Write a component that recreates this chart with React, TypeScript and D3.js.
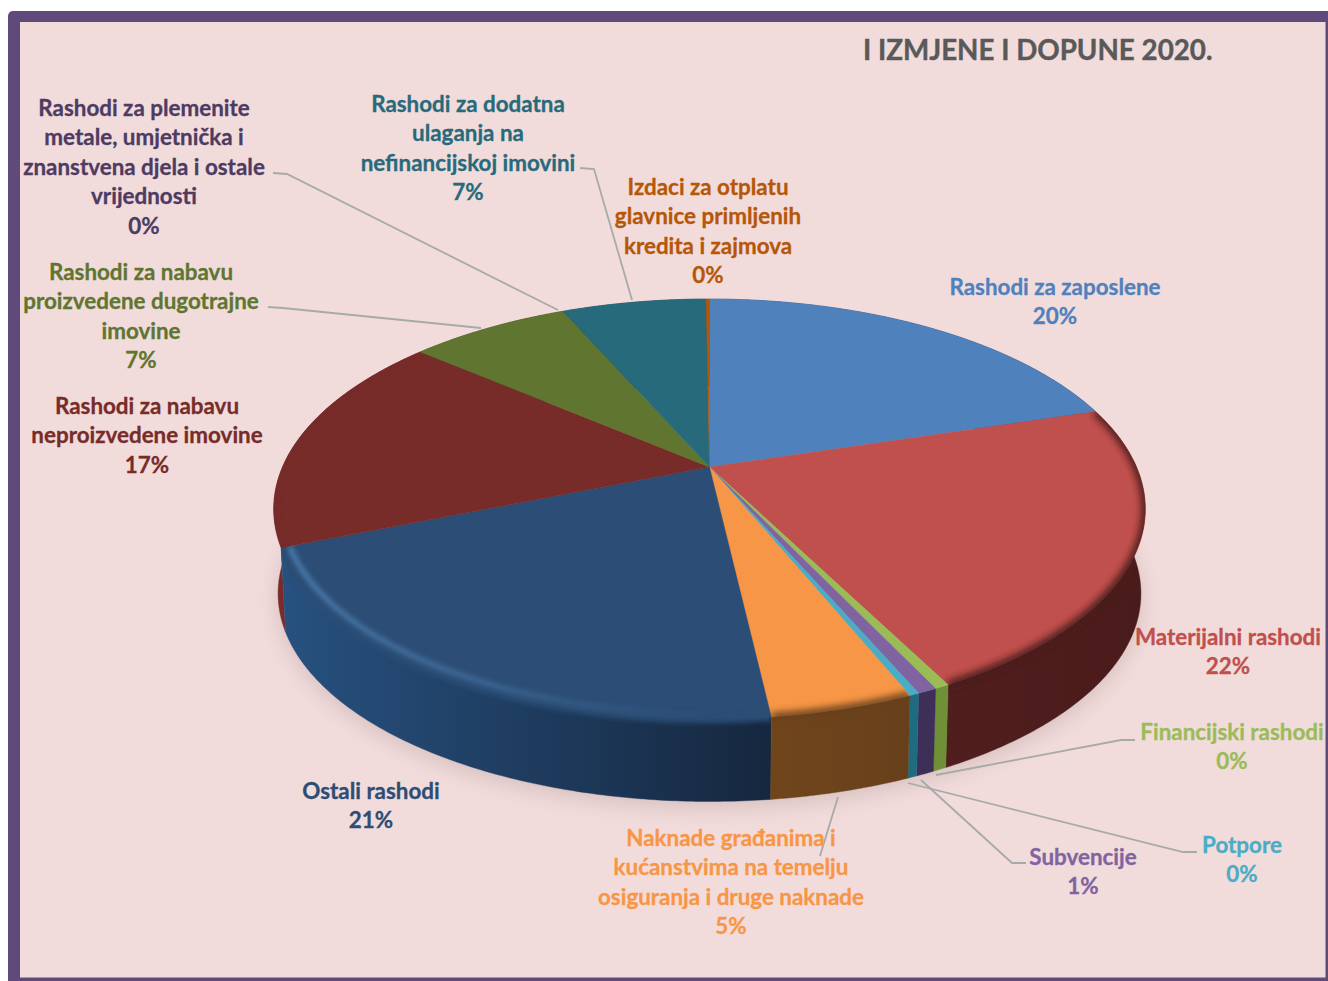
import React from "react";
import * as d3 from "d3";

const title = "I IZMJENE I DOPUNE 2020.";
const categories = [
  "Rashodi za zaposlene",
  "Materijalni rashodi",
  "Financijski rashodi",
  "Subvencije",
  "Potpore",
  "Naknade građanima i kućanstvima na temelju osiguranja i druge naknade",
  "Ostali rashodi",
  "Rashodi za nabavu neproizvedene imovine",
  "Rashodi za nabavu proizvedene dugotrajne imovine",
  "Rashodi za plemenite metale, umjetnička i znanstvena djela i ostale vrijednosti",
  "Rashodi za dodatna ulaganja na nefinancijskoj imovini",
  "Izdaci za otplatu glavnice primljenih kredita i zajmova",
];
const values = [20.3, 22.1, 0.45, 0.6, 0.3, 4.4, 20.8, 17.2, 7.2, 0.0, 6.5, 0.15];
const percentLabels = ["20%", "22%", "0%", "1%", "0%", "5%", "21%", "17%", "7%", "0%", "7%", "0%"];
const labelLines = [
  ["Rashodi za zaposlene"],
  ["Materijalni rashodi"],
  ["Financijski rashodi"],
  ["Subvencije"],
  ["Potpore"],
  ["Naknade građanima i", "kućanstvima na temelju", "osiguranja i druge naknade"],
  ["Ostali rashodi"],
  ["Rashodi za nabavu", "neproizvedene imovine"],
  ["Rashodi za nabavu", "proizvedene dugotrajne", "imovine"],
  ["Rashodi za plemenite", "metale, umjetnička i", "znanstvena djela i ostale", "vrijednosti"],
  ["Rashodi za dodatna", "ulaganja na", "nefinancijskoj imovini"],
  ["Izdaci za otplatu", "glavnice primljenih", "kredita i zajmova"],
];
const topColors = ["#4f81bd", "#c0504d", "#9bbb59", "#8064a2", "#4bacc6", "#f79646", "#2c4d75", "#772c2a", "#5f7530", "#4d3b62", "#276a7c", "#b65708"];
const wallColors = [
  ["#2b4768", "#2b4768"],
  ["#501e1d", "#4a1b1b"],
  ["#6f9037", "#6f9037"],
  ["#3d2f58", "#3d2f58"],
  ["#1f6b80", "#1f6b80"],
  ["#70451b", "#67401b"],
  ["#27517f", "#16273f"],
  ["#7a2b2a", "#7a2b2a"],
  ["#3a4a1e", "#3a4a1e"],
  ["#33273f", "#33273f"],
  ["#18434f", "#18434f"],
  ["#6f3505", "#6f3505"],
];
const labelAnchors: [number, number][] = [
  [1055, 295], [1228, 645], [1232, 740], [1083, 865], [1242, 853], [731, 846],
  [371, 799], [147, 414], [141, 280], [144, 116], [468, 112], [708, 195],
];
const leaders: [number, number][][] = [
  [[273, 173], [287, 174], [558, 310]],
  [[580, 168], [594, 169], [632, 300]],
  [[268, 307], [283, 308], [481, 328]],
  [[1135, 740], [1121, 740], [936, 775]],
  [[1197, 852], [1183, 852], [908, 783]],
  [[1026, 863], [1012, 863], [921, 780]],
  [[838, 797], [820, 856]],
];

const W = 1328, H = 981;
const cx = 709.5, cy = 467, A = 427, B = 201.6, K = 0.2, DEPTH = 85, SHRINK = 0.99;
const LINE = 29.4;
const FONT = "Lato, 'Open Sans', sans-serif";

const project = (a: number, r = 1): [number, number] => {
  const u = r * Math.sin(a), v = -r * Math.cos(a);
  const d = 1 - K * v;
  return [cx + (A * u) / d, cy + (B * v) / d];
};
const lower = ([x, y]: [number, number]): [number, number] => [
  cx + SHRINK * (x - cx),
  cy + DEPTH + SHRINK * (y - cy),
];
const samples = (a0: number, a1: number) => {
  const n = Math.max(2, Math.ceil((a1 - a0) / 0.01));
  return d3.range(n + 1).map((i) => a0 + ((a1 - a0) * i) / n);
};
const line = d3.line<[number, number]>().x((d) => d[0]).y((d) => d[1]);

const arcs = d3.pie<number>().sort(null).value((d) => d)(values);

const slices = arcs.map((arc, i) => {
  const angles = samples(arc.startAngle, arc.endAngle);
  const rim = angles.map((a) => project(a));
  const top = line([[cx, cy], ...rim])! + "Z";
  const wall = line([...rim, ...rim.map(lower).reverse()])! + "Z";
  const rimPath = line(rim)!;
  const innerRim = line(angles.map((a) => project(a, 0.982)))!;
  const xs = rim.map((p) => p[0]);
  const midY = d3.mean(rim, (p) => p[1])!;
  return { i, top, wall, rimPath, innerRim, x0: d3.min(xs)!, x1: d3.max(xs)!, midY };
}).filter((_, i) => values[i] > 0);

const wallOrder = [...slices].sort((a, b) => d3.ascending(a.midY, b.midY));
const fullBottom = line(samples(0, Math.PI * 2).map((a) => lower(project(a))))! + "Z";
const NAVY = 6;
const shaded = new Set([1, 5, 7]);

export default function App() {
  return (
    <svg
      width={W}
      height={H}
      viewBox={`0 0 ${W} ${H}`}
      style={{ position: "absolute", left: 0, top: 0, display: "block" }}
    >
      <defs>
        <filter id="blur3" filterUnits="userSpaceOnUse" x="0" y="0" width={W} height={H}>
          <feGaussianBlur stdDeviation="3.6" />
        </filter>
        <filter id="blur2" filterUnits="userSpaceOnUse" x="0" y="0" width={W} height={H}>
          <feGaussianBlur stdDeviation="2.6" />
        </filter>
        <filter id="shadow" filterUnits="userSpaceOnUse" x="0" y="0" width={W} height={H}>
          <feGaussianBlur stdDeviation="11" />
        </filter>
        <linearGradient id="navyGlow" gradientUnits="userSpaceOnUse" x1="285" x2="720" y1="0" y2="0">
          <stop offset="0" stopColor="#5288bd" stopOpacity="0.85" />
          <stop offset="0.45" stopColor="#4d80b3" stopOpacity="0.55" />
          <stop offset="1" stopColor="#3c6a9b" stopOpacity="0" />
        </linearGradient>
        {slices.map((s) => (
          <linearGradient key={s.i} id={`wall${s.i}`} gradientUnits="userSpaceOnUse" x1={s.x0} x2={s.x1} y1="0" y2="0">
            <stop offset="0" stopColor={wallColors[s.i][0]} />
            <stop offset="1" stopColor={wallColors[s.i][1]} />
          </linearGradient>
        ))}
        {slices.map((s) => (
          <clipPath key={s.i} id={`clip${s.i}`}>
            <path d={s.top} />
            <path d={s.wall} />
          </clipPath>
        ))}
      </defs>

      <rect x="8" y="11" width={W} height={H} rx="5" fill="#604a7b" />
      <rect x="20" y="22" width="1305.5" height="955.5" fill="#f2dcdb" />

      <g filter="url(#shadow)" fill="#a89594" opacity="0.4" transform="translate(0 6)">
        <path d={fullBottom} />
      </g>

      <g>
        {wallOrder.map((s) => (
          <path key={s.i} d={s.wall} fill={`url(#wall${s.i})`} stroke={`url(#wall${s.i})`} strokeWidth="0.4" />
        ))}
        {slices.map((s) => (
          <path key={s.i} d={s.top} fill={topColors[s.i]} stroke={topColors[s.i]} strokeWidth="0.4" />
        ))}
        {slices.filter((s) => shaded.has(s.i)).map((s) => (
          <g key={s.i} clipPath={`url(#clip${s.i})`}>
            <path
              d={s.rimPath}
              fill="none"
              stroke={wallColors[s.i][1]}
              strokeWidth={s.i === 7 ? 3 : 8}
              filter="url(#blur3)"
              opacity={s.i === 7 ? 0.35 : 1}
            />
          </g>
        ))}
        {slices.filter((s) => s.i === NAVY).map((s) => (
          <g key={s.i} clipPath={`url(#clip${s.i})`}>
            <path d={s.rimPath} fill="none" stroke={topColors[NAVY]} strokeWidth="8" filter="url(#blur2)" />
            <path d={s.innerRim} fill="none" stroke="url(#navyGlow)" strokeWidth="5" filter="url(#blur2)" />
          </g>
        ))}
      </g>

      <g fill="none" stroke="#a6aaa9" strokeWidth="1.8">
        {leaders.map((pts, i) => (
          <path key={i} d={line(pts)!} />
        ))}
      </g>

      <g fontFamily={FONT} fontWeight="700" fontSize="22.4" textAnchor="middle" strokeWidth="0.3">
        {labelLines.map((lines, i) => (
          <text key={i} fill={topColors[i]} stroke={topColors[i]}>
            {[...lines, percentLabels[i]].map((t, j) => (
              <tspan key={j} x={labelAnchors[i][0]} y={labelAnchors[i][1] + j * LINE}>
                {t}
              </tspan>
            ))}
          </text>
        ))}
      </g>
      <text x="863" y="60" fontFamily={FONT} fontWeight="700" fontSize="27.75" fill="#595959" stroke="#595959" strokeWidth="0.4">
        {title}
      </text>
    </svg>
  );
}
